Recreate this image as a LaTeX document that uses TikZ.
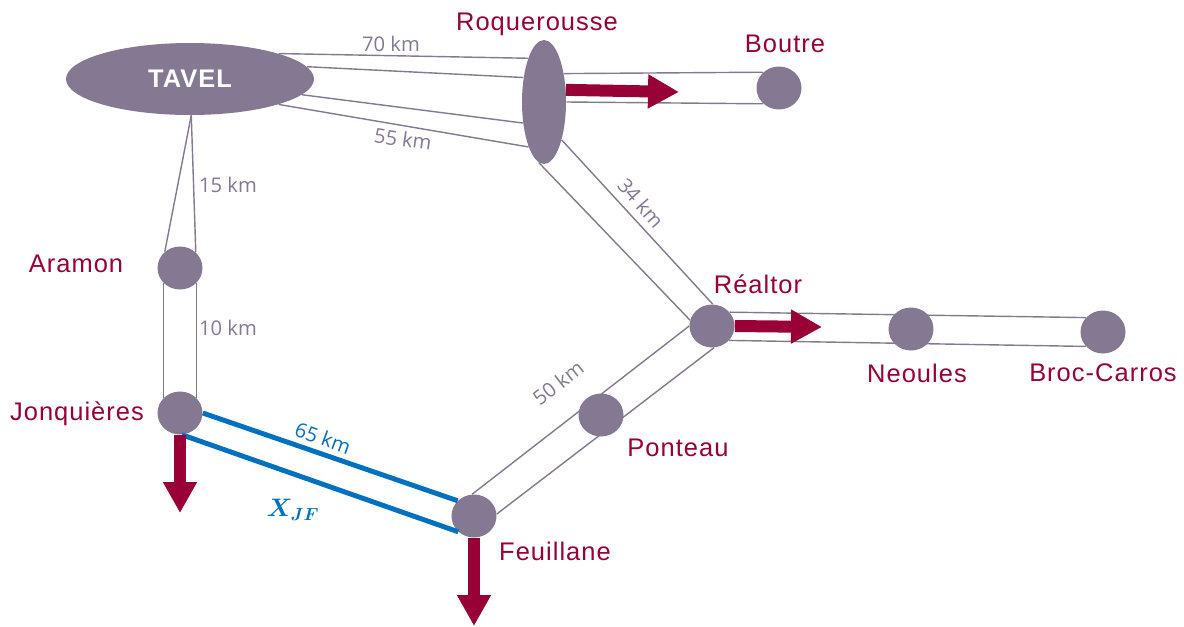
\documentclass[tikz,border=0pt]{standalone}
\usepackage{fontspec}
\setmainfont{Liberation Sans}
\newfontfamily\kmfont{Open Sans}
\newfontfamily\townfont[LetterSpace=4]{Liberation Sans}
\usepackage{amsmath}
\usepackage{tikz}
\usetikzlibrary{shapes.geometric, arrows.meta, backgrounds, positioning}
\definecolor{sitegray}{HTML}{857893}
\definecolor{wine}{HTML}{990036}
\definecolor{sea}{HTML}{0070C0}
\tikzstyle{site} = [ellipse, fill=sitegray, minimum width=0.9cm, minimum height=0.86cm, inner sep=0pt]
\tikzstyle{townlab} = [text=wine, font=\townfont\fontsize{14.5}{16}\selectfont]
\tikzstyle{distlab} = [text=sitegray, font=\kmfont\fontsize{11.5}{13}\selectfont]
\tikzstyle{road} = [draw=sitegray, line width=0.8pt]
\tikzstyle{route} = [draw=sea, line width=2.8pt]
\tikzstyle{flow} = [draw=wine, line width=0.24cm, -{Triangle[length=0.62cm, width=0.64cm]}]

\begin{document}
\begin{tikzpicture}[x=0.02cm, y=-0.02cm]
\useasboundingbox (0,0) rectangle (1184,626);

% towns
\node[site, minimum width=4.96cm, minimum height=1.44cm, text=white, font=\townfont\bfseries\fontsize{14.5}{16}\selectfont] (tavel) at (190,79) {TAVEL};
\node[site, minimum width=0.88cm, minimum height=2.48cm] (roq) at (544,102) {};
\node[site] (boutre) at (779,88) {};
\node[site] (aramon) at (180,268) {};
\node[site] (jonq) at (180,413) {};
\node[site] (feu) at (474,516) {};
\node[site] (ponteau) at (601,415) {};
\node[site] (realtor) at (712,326) {};
\node[site] (neoules) at (911,329) {};
\node[site] (broc) at (1103,332) {};

% roads
\begin{scope}[on background layer]
\draw[road] (tavel.16) -- (roq.110);
\draw[road] (tavel.6) -- (roq.130);
\draw[road] (tavel.-8) -- (roq.-135);
\draw[road] (tavel.-16) -- (roq.-109);
\draw[road] (roq.55) -- (boutre.135);
\draw[road] (roq.0) -- (boutre.-135);
\draw[road] (tavel.-88) -- (aramon.133);
\draw[road] (tavel.-88) -- (aramon.45);
\draw[road] (aramon.-137) -- (jonq.137);
\draw[road] (aramon.-43) -- (jonq.43);
\draw[road] (roq.-95) -- (realtor.165);
\draw[road] (roq.-65) -- (realtor.88);
\draw[road] (feu.95) -- (realtor.180);
\draw[road] (feu.5) -- (realtor.-85);
\draw[road] (realtor.38) -- (broc.140);
\draw[road] (realtor.-40) -- (broc.-140);
\end{scope}
\draw[route] (jonq.0) -- (feu.137);
\draw[route] (jonq.-85) -- (feu.-135);

% flows
\coordinate (roqout) at (679,92);
\coordinate (realout) at (822,327);
\coordinate (jonqout) at (180,513);
\coordinate (feuout) at (474,626);
\draw[flow] (roq.29) -- (roqout);
\draw[flow] (realtor.east) -- (realout);
\draw[flow] (jonq.south) -- (jonqout);
\draw[flow] (feu.south) -- (feuout);

% labels
\node[townlab] (roq-lab) at (537,24) {Roquerousse};
\node[townlab] (boutre-lab) at (785,44) {Boutre};
\node[townlab] (aramon-lab) at (76,264) {Aramon};
\node[townlab] (jonq-lab) at (77,414) {Jonquières};
\node[townlab] (feu-lab) at (555,551) {Feuillane};
\node[townlab] (ponteau-lab) at (678,448) {Ponteau};
\node[townlab] (realtor-lab) at (758,284) {Réaltor};
\node[townlab] (neoules-lab) at (917,373) {Neoules};
\node[townlab] (broc-lab) at (1103,373) {Broc-Carros};

\node[distlab] (d-70) at (391,44) {70 km};
\node[distlab, rotate=-8] (d-55) at (403,139) {55 km};
\node[distlab] (d-15) at (228,185) {15 km};
\node[distlab] (d-10) at (228,328) {10 km};
\node[distlab, rotate=-49] (d-34) at (641,203) {34 km};
\node[distlab, rotate=38] (d-50) at (558,383) {50 km};
\node[distlab, text=sea, rotate=-20] (d-65) at (323,438) {65 km};
\node[text=sea, font=\fontsize{14}{16}\selectfont] (x-jf) at (293,510) {$\boldsymbol{X_{JF}}$};

\end{tikzpicture}
\end{document}
